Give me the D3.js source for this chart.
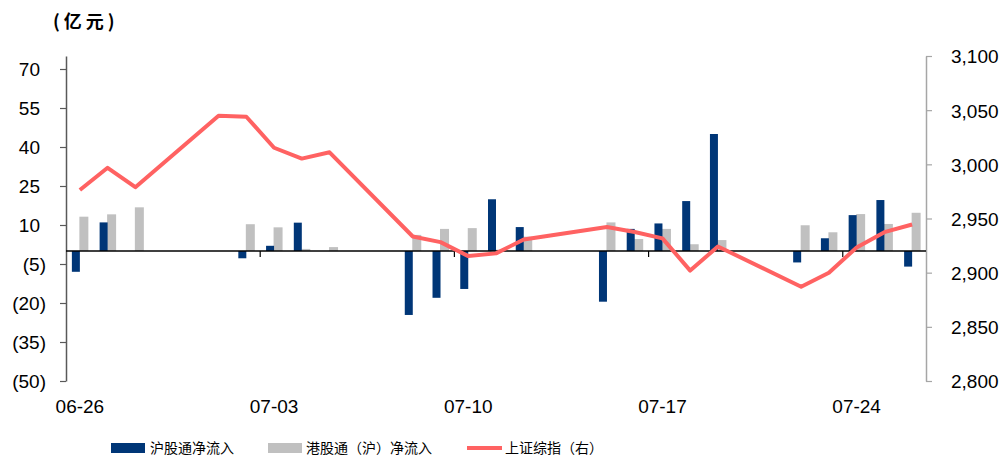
<!DOCTYPE html>
<html>
<head>
<meta charset="utf-8">
<style>
  body { margin: 0; background: #fff; }
  text { font-family: "Liberation Sans", Arial, sans-serif; fill: #000; }
  .cjk { font-family: "Noto Sans CJK SC", sans-serif; }
</style>
</head>
<body>
<script src="https://cdn.jsdelivr.net/npm/d3@7/dist/d3.min.js"></script>
<script>
// calendar days shown on the x axis
var dates = ["06-26","06-27","06-28","06-29","06-30","07-01","07-02","07-03","07-04","07-05",
             "07-06","07-07","07-08","07-09","07-10","07-11","07-12","07-13","07-14","07-15",
             "07-16","07-17","07-18","07-19","07-20","07-21","07-22","07-23","07-24","07-25","07-26"];
var tickDates = ["06-26","07-03","07-10","07-17","07-24"];

// 沪股通净流入 (亿元), null = no trading
var northFlow = [-8, 11, 0, null, null, 0, -2.8, 2, 10.9, 0, null, null, -24.6, -18, -14.6, 19.9, 9.2,
                 null, null, -19.5, 8.5, 10.6, 19.2, 45, null, null, -4.4, 4.9, 13.8, 19.6, -6];
// 港股通(沪)净流入 (亿元)
var southFlow = [13.2, 14.1, 16.8, null, null, 0, 10.3, 9.1, 0.8, 1.5, null, null, 6.2, 8.5, 8.8, 0.5, 5.5,
                 null, null, 11, 4.6, 8.5, 2.6, 4.2, null, null, 9.9, 7.2, 14.2, 10.4, 14.7];
// 上证综指 close
var index = [2976.3, 2996.8, 2978.9, null, null, 3044.9, 3043.9, 3015.3, 3005.3, 3011.1, null, null,
             2933.4, 2928.2, 2915.3, 2917.8, 2930.6, null, null, 2942.2, 2937.6, 2931.7, 2901.9, 2924.2,
             null, null, 2887.0, 2899.9, 2923.3, 2937.4, 2944.5];

var leftTicks = [70, 55, 40, 25, 10, -5, -20, -35, -50];
var rightTicks = [3100, 3050, 3000, 2950, 2900, 2850, 2800];

var width = 1008, height = 459;
var plotL = 66, plotR = 926, plotT = 56, plotB = 381;

var svg = d3.select("body").append("svg")
    .attr("width", width)
    .attr("height", height);

var x = d3.scaleBand().domain(dates).range([plotL, plotR]).padding(0);
var yL = d3.scaleLinear().domain([-50, 75]).range([plotB, plotT]);
var yR = d3.scaleLinear().domain([2800, 3100]).range([plotB, plotT]);

var fmtL = function(v) { return v < 0 ? "(" + Math.abs(v) + ")" : String(v); };

// left axis
var gL = svg.append("g").attr("transform", "translate(" + plotL + ",0)")
    .call(d3.axisLeft(yL).tickValues(leftTicks).tickSize(6).tickSizeOuter(0).tickFormat(fmtL));
gL.select(".domain").attr("stroke", "#595959").attr("stroke-width", 1.5);
gL.selectAll(".tick line").attr("stroke", "#595959").attr("stroke-width", 1.2);
gL.selectAll(".tick text")
    .attr("font-size", 19)
    .attr("font-family", "Liberation Sans, Arial, sans-serif")
    .attr("x", function(d) { return d < 0 ? -20 : -26; })
    .attr("dy", "0.36em");

// right axis
var gR = svg.append("g").attr("transform", "translate(" + plotR + ",0)")
    .call(d3.axisRight(yR).tickValues(rightTicks).tickSize(6).tickSizeOuter(0).tickFormat(d3.format(",")));
gR.select(".domain").attr("stroke", "#a6a6a6").attr("stroke-width", 1.5);
gR.selectAll(".tick line").attr("stroke", "#a6a6a6").attr("stroke-width", 1.2);
gR.selectAll(".tick text")
    .attr("font-size", 19)
    .attr("font-family", "Liberation Sans, Arial, sans-serif")
    .attr("x", 25)
    .attr("dy", "0.36em");

// bars
var rows = dates.map(function(d, i) {
    return { date: d, north: northFlow[i], south: southFlow[i] };
});

svg.append("g").selectAll("rect.south")
    .data(rows.filter(function(r) { return r.south; }))
    .enter().append("rect")
    .attr("class", "south")
    .attr("x", function(r) { return x(r.date) + x.bandwidth() / 2 - 0.5; })
    .attr("width", 9)
    .attr("y", function(r) { return yL(Math.max(0, r.south)); })
    .attr("height", function(r) { return Math.abs(yL(r.south) - yL(0)); })
    .attr("fill", "#c0c0c0");

svg.append("g").selectAll("rect.north")
    .data(rows.filter(function(r) { return r.north; }))
    .enter().append("rect")
    .attr("class", "north")
    .attr("x", function(r) { return x(r.date) + x.bandwidth() / 2 - 8; })
    .attr("width", 8)
    .attr("y", function(r) { return yL(Math.max(0, r.north)); })
    .attr("height", function(r) { return Math.abs(yL(r.north) - yL(0)); })
    .attr("fill", "#003677");

// zero baseline with weekly ticks
svg.append("line")
    .attr("x1", plotL).attr("x2", plotR)
    .attr("y1", yL(0)).attr("y2", yL(0))
    .attr("stroke", "#000").attr("stroke-width", 1.3);

svg.append("g").selectAll("line")
    .data(tickDates.slice(1))
    .enter().append("line")
    .attr("x1", function(d) { return x(d); })
    .attr("x2", function(d) { return x(d); })
    .attr("y1", yL(0)).attr("y2", yL(0) + 6)
    .attr("stroke", "#000").attr("stroke-width", 1.2);

svg.append("g").selectAll("text")
    .data(tickDates)
    .enter().append("text")
    .attr("x", function(d) { return x(d) + x.bandwidth() / 2; })
    .attr("y", 413)
    .attr("text-anchor", "middle")
    .attr("font-size", 19)
    .text(function(d) { return d; });

// index line (trading days only)
var pts = dates.map(function(d, i) { return { date: d, v: index[i] }; })
    .filter(function(p) { return p.v != null; });

var line = d3.line()
    .x(function(p) { return x(p.date) + x.bandwidth() / 2; })
    .y(function(p) { return yR(p.v); });

svg.append("path")
    .datum(pts)
    .attr("d", line)
    .attr("fill", "none")
    .attr("stroke", "#ff6262")
    .attr("stroke-width", 4)
    .attr("stroke-linejoin", "round");

// unit label
svg.append("text")
    .attr("class", "cjk")
    .attr("x", 53).attr("y", 28)
    .attr("font-size", 18)
    .attr("font-weight", "bold")
    .attr("letter-spacing", 4)
    .text("(亿元)");

// legend
var legend = svg.append("g");
legend.append("rect").attr("x", 111).attr("y", 443).attr("width", 34).attr("height", 10).attr("fill", "#003677");
legend.append("text").attr("class", "cjk").attr("x", 150).attr("y", 453).attr("font-size", 14).text("沪股通净流入");
legend.append("rect").attr("x", 268).attr("y", 443).attr("width", 34).attr("height", 10).attr("fill", "#c0c0c0");
legend.append("text").attr("class", "cjk").attr("x", 306).attr("y", 453).attr("font-size", 14).text("港股通（沪）净流入");
legend.append("line").attr("x1", 467).attr("x2", 502).attr("y1", 448).attr("y2", 448)
    .attr("stroke", "#ff6262").attr("stroke-width", 4);
legend.append("text").attr("class", "cjk").attr("x", 505).attr("y", 453).attr("font-size", 14).text("上证综指（右）");
</script>
</body>
</html>
